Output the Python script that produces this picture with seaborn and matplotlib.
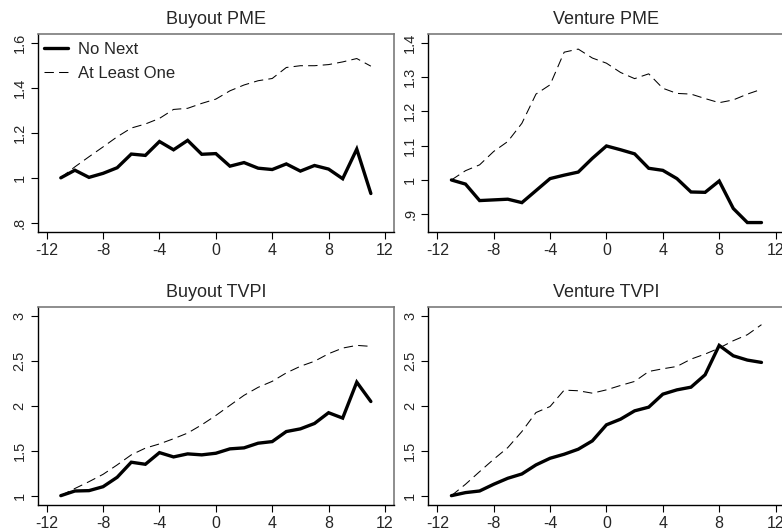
import numpy as np
import pandas as pd
import matplotlib
matplotlib.use('Agg')
import matplotlib.pyplot as plt
import seaborn as sns

# ------------------------------------------------------------
# data
# ------------------------------------------------------------
years = list(range(-11, 12))

buyout_pme_none = [1.000, 1.034, 1.002, 1.020, 1.045, 1.106, 1.100, 1.162, 1.125, 1.167,
                   1.105, 1.108, 1.052, 1.068, 1.043, 1.037, 1.062, 1.030, 1.055, 1.039,
                   0.996, 1.128, 0.930]
buyout_pme_one = [1.000, 1.049, 1.094, 1.138, 1.183, 1.222, 1.240, 1.265, 1.305, 1.310,
                  1.332, 1.351, 1.388, 1.414, 1.433, 1.443, 1.492, 1.500, 1.500, 1.505,
                  1.517, 1.532, 1.498]

venture_pme_none = [1.000, 0.988, 0.940, 0.942, 0.944, 0.934, 0.969, 1.004, 1.014, 1.023,
                    1.063, 1.099, 1.088, 1.076, 1.034, 1.028, 1.004, 0.965, 0.964, 0.997,
                    0.917, 0.876, 0.876]
venture_pme_one = [1.000, 1.027, 1.044, 1.083, 1.112, 1.165, 1.250, 1.277, 1.372, 1.381,
                   1.355, 1.340, 1.313, 1.295, 1.309, 1.267, 1.252, 1.250, 1.237, 1.225,
                   1.233, 1.250, 1.264]

buyout_tvpi_none = [1.000, 1.052, 1.056, 1.100, 1.205, 1.373, 1.350, 1.480, 1.432, 1.466,
                    1.455, 1.473, 1.522, 1.533, 1.585, 1.603, 1.715, 1.745, 1.805, 1.925,
                    1.865, 2.266, 2.050]
buyout_tvpi_one = [1.000, 1.080, 1.156, 1.238, 1.343, 1.455, 1.530, 1.577, 1.635, 1.698,
                   1.790, 1.894, 2.007, 2.119, 2.208, 2.275, 2.369, 2.443, 2.499, 2.583,
                   2.646, 2.676, 2.665]

venture_tvpi_none = [1.000, 1.034, 1.052, 1.127, 1.194, 1.242, 1.343, 1.417, 1.462, 1.518,
                     1.611, 1.790, 1.853, 1.946, 1.987, 2.132, 2.180, 2.210, 2.348, 2.676,
                     2.560, 2.512, 2.486]
venture_tvpi_one = [1.000, 1.127, 1.268, 1.406, 1.536, 1.715, 1.927, 1.994, 2.177, 2.170,
                    2.143, 2.180, 2.229, 2.274, 2.385, 2.415, 2.441, 2.523, 2.579, 2.646,
                    2.728, 2.795, 2.907]

x_ticks = [-12, -8, -4, 0, 4, 8, 12]
pme_buyout_ticks = [0.8, 1.0, 1.2, 1.4, 1.6]
pme_buyout_labels = ['.8', '1', '1.2', '1.4', '1.6']
pme_venture_ticks = [0.9, 1.0, 1.1, 1.2, 1.3, 1.4]
pme_venture_labels = ['.9', '1', '1.1', '1.2', '1.3', '1.4']
tvpi_ticks = [1.0, 1.5, 2.0, 2.5, 3.0]
tvpi_labels = ['1', '1.5', '2', '2.5', '3']

# ------------------------------------------------------------
# style
# ------------------------------------------------------------
sns.set_style('ticks')
plt.rcParams['font.family'] = ['Liberation Sans', 'DejaVu Sans']

fig = plt.figure(figsize=(7.82, 5.31), dpi=100)

W, H = 0.4556, 0.3735
positions = [
    [0.0482, 0.5625, W, H],
    [0.5477, 0.5625, W, H],
    [0.0482, 0.0490, W, H],
    [0.5477, 0.0490, W, H],
]

panels = [
    ('Buyout PME', buyout_pme_none, buyout_pme_one, (0.757, 1.6415), pme_buyout_ticks, pme_buyout_labels),
    ('Venture PME', venture_pme_none, venture_pme_one, (0.8476, 1.425), pme_venture_ticks, pme_venture_labels),
    ('Buyout TVPI', buyout_tvpi_none, buyout_tvpi_one, (0.896, 3.108), tvpi_ticks, tvpi_labels),
    ('Venture TVPI', venture_tvpi_none, venture_tvpi_one, (0.896, 3.108), tvpi_ticks, tvpi_labels),
]

for i, (title, none_vals, one_vals, ylim, yt, ytl) in enumerate(panels):
    ax = fig.add_axes(positions[i])
    df = pd.DataFrame({'year': years, 'none': none_vals, 'one': one_vals})

    sns.lineplot(data=df, x='year', y='none', ax=ax, color='black',
                 linewidth=2.4, label='No Next', solid_joinstyle='miter')
    sns.lineplot(data=df, x='year', y='one', ax=ax, color='black',
                 linewidth=0.75, linestyle=(0, (9, 5)), label='At Least One')

    ax.set_xlim(-12.64, 12.64)
    ax.set_ylim(*ylim)
    ax.set_xticks(x_ticks)
    ax.set_xticklabels([str(t) for t in x_ticks], fontsize=11.5)
    ax.set_yticks(yt)
    ax.set_yticklabels(ytl, rotation=90, va='center', fontsize=10.5)
    ax.tick_params(axis='both', direction='out', length=5, width=0.8,
                   pad=3, color='black')
    ax.set_xlabel('')
    ax.set_ylabel('')
    ax.set_title(title, fontsize=13, pad=7)

    for side in ['left', 'bottom']:
        ax.spines[side].set_color('black')
        ax.spines[side].set_linewidth(1.0)
    for side in ['top', 'right']:
        ax.spines[side].set_visible(True)
        ax.spines[side].set_color('#7a7a7a')
        ax.spines[side].set_linewidth(1.2)

    if i == 0:
        ax.legend(loc='upper left', frameon=False, fontsize=12,
                  handlelength=1.45, handletextpad=0.6, labelspacing=0.5,
                  borderaxespad=0.1, bbox_to_anchor=(-0.005, 1.0))
    else:
        ax.get_legend().remove()

fig.savefig('out.png', dpi=100)
